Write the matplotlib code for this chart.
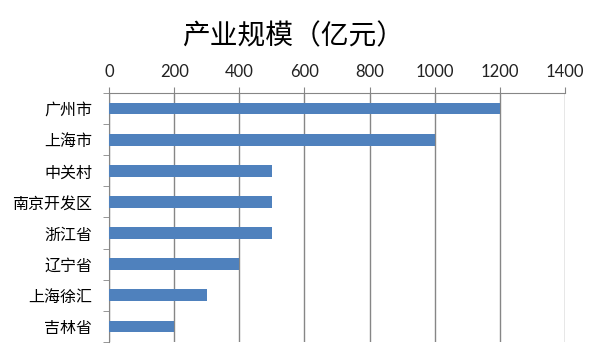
import matplotlib.pyplot as plt

plt.rcParams['font.family'] = ['Noto Sans CJK SC', 'DejaVu Sans']

regions = ['广州市', '上海市', '中关村', '南京开发区', '浙江省', '辽宁省', '上海徐汇', '吉林省']
scale = [1200, 1000, 500, 500, 500, 400, 300, 200]
xticks = [0, 200, 400, 600, 800, 1000, 1200, 1400]

fig = plt.figure(figsize=(6, 3.6), dpi=100)
ax = fig.add_axes([0.1817, 0.05, 0.76, 0.6917])

y = list(range(len(regions)))
ax.barh(y, scale, height=0.38, color='#4F81BD', zorder=3)

ax.set_xlim(0, 1400)
ax.set_ylim(len(regions) - 0.5, -0.5)
ax.set_xticks(xticks)
ax.set_xticklabels([str(t) for t in xticks], family=['Lato', 'DejaVu Sans'], fontsize=12, color='#222222')
ax.xaxis.tick_top()
ax.tick_params(axis='x', length=4, color='#868686', pad=5)
ax.grid(axis='x', color='#868686', linewidth=1, zorder=0)

ax.set_yticks(y)
ax.set_yticklabels(regions, fontsize=11.5, fontweight='light')
ax.set_yticks([i - 0.5 for i in range(len(regions) + 1)], minor=True)
ax.tick_params(axis='y', which='major', length=0, pad=12)
ax.tick_params(axis='y', which='minor', length=4, color='#868686')

for s in ['right', 'bottom']:
    ax.spines[s].set_visible(False)
ax.spines['top'].set_color('#868686')
ax.spines['left'].set_color('#868686')

fig.text(0.488, 0.9, '产业规模（亿元）', ha='center', va='center', fontsize=20)

fig.savefig('out.png', dpi=100)
